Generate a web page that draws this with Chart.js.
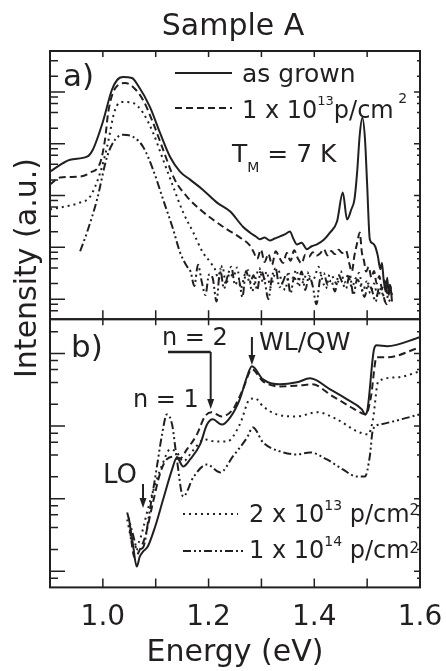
<!DOCTYPE html>
<html>
<head>
<meta charset="utf-8">
<script src="https://cdn.jsdelivr.net/npm/chart.js@4.4.0/dist/chart.umd.min.js"></script>
<style>
  html, body { margin: 0; padding: 0; background: #fff; }
</style>
</head>
<body>
<canvas id="grafico" width="446" height="671"></canvas>
<script>
// painel a) PL (log), painel b) PLE (log)
const eAsGrownA = [0.900, 0.938, 0.970, 0.981, 1.000, 1.017, 1.027, 1.038, 1.055, 1.066, 1.089, 1.108, 1.127, 1.146, 1.165, 1.189, 1.216, 1.241, 1.265, 1.278, 1.290, 1.297, 1.306, 1.316, 1.325, 1.335, 1.345, 1.354, 1.360, 1.367, 1.376, 1.386, 1.395, 1.405, 1.418, 1.430, 1.443, 1.454, 1.462, 1.470, 1.476, 1.481, 1.486, 1.491, 1.496, 1.500, 1.505, 1.510, 1.515, 1.520, 1.525, 1.528, 1.531, 1.535, 1.538, 1.541, 1.544, 1.547];
const iAsGrownA = [290, 492, 562, 767, 2650, 10900, 17000, 19400, 18600, 13600, 5150, 1630, 562, 290, 203, 130, 73, 49, 25, 19.4, 16, 14.3, 15.5, 13.5, 14.8, 16.3, 18, 20.3, 15, 11.4, 12.2, 9.2, 10.5, 11.4, 14, 19.4, 31.6, 114, 34.5, 53.8, 84, 277, 1490, 3160, 1194, 163, 14.3, 12, 10.5, 7, 3.8, 5, 2.5, 1.4, 2.6, 1.2, 1.8, 0.9];

const eDose13A = [0.900, 0.919, 0.957, 0.976, 0.995, 1.004, 1.010, 1.019, 1.029, 1.042, 1.057, 1.076, 1.095, 1.114, 1.136, 1.159, 1.184, 1.208, 1.235, 1.259, 1.278, 1.285, 1.292, 1.299, 1.306, 1.313, 1.320, 1.327, 1.334, 1.341, 1.348, 1.355, 1.362, 1.369, 1.376, 1.383, 1.390, 1.397, 1.404, 1.411, 1.418, 1.425, 1.432, 1.439, 1.446, 1.453, 1.460, 1.466, 1.471, 1.476, 1.481, 1.486, 1.490, 1.494, 1.498, 1.503, 1.508, 1.513, 1.518, 1.523, 1.528, 1.533, 1.538, 1.543, 1.547];
const iDose13A = [163, 222, 232, 277, 431, 1190, 3950, 9570, 13600, 14900, 12500, 7020, 2530, 767, 203, 95.7, 53.8, 34.5, 22.2, 15.6, 10.9, 8.2, 6.0, 9.0, 5.2, 7.5, 4.6, 8.4, 6.3, 5.0, 7.8, 5.5, 8.8, 6.1, 4.9, 7.2, 6.6, 8.0, 6.9, 7.6, 9.2, 7.0, 8.5, 7.4, 9.0, 7.8, 8.6, 5.0, 3.4, 7.0, 12, 19.4, 8, 5.5, 3.4, 4.2, 2.6, 3.5, 2.0, 2.8, 1.6, 2.3, 1.3, 1.9, 1.2];

const eDose2x13A = [0.900, 0.928, 0.957, 0.976, 0.995, 1.008, 1.023, 1.038, 1.057, 1.076, 1.095, 1.114, 1.133, 1.152, 1.171, 1.189, 1.203, 1.212, 1.219, 1.226, 1.233, 1.240, 1.247, 1.254, 1.261, 1.268, 1.275, 1.282, 1.289, 1.296, 1.303, 1.310, 1.317, 1.324, 1.331, 1.338, 1.345, 1.352, 1.359, 1.366, 1.373, 1.380, 1.387, 1.394, 1.401, 1.408, 1.415, 1.422, 1.429, 1.436, 1.443, 1.450, 1.457, 1.464, 1.471, 1.478, 1.485, 1.492, 1.499, 1.506, 1.513, 1.520, 1.527, 1.534, 1.541];
const iDose2x13A = [53.8, 61.4, 73.3, 95.7, 277, 875, 4510, 6420, 6140, 3950, 1629, 492, 149, 47.1, 19.4, 8.0, 5.2, 3.8, 2.4, 4.4, 1.9, 3.2, 2.7, 4.1, 1.6, 2.9, 3.6, 1.4, 2.5, 4.0, 2.1, 3.4, 1.7, 2.8, 3.9, 2.2, 1.5, 3.1, 2.6, 3.7, 1.8, 2.3, 3.3, 2.0, 2.7, 4.2, 2.4, 1.6, 3.0, 2.6, 1.9, 3.5, 2.1, 2.9, 1.7, 2.5, 3.2, 1.4, 2.2, 1.3, 2.0, 1.1, 1.6, 0.9, 1.3];

const eDose14A = [0.957, 0.970, 0.989, 1.008, 1.023, 1.038, 1.057, 1.076, 1.095, 1.114, 1.133, 1.146, 1.159, 1.166, 1.173, 1.180, 1.187, 1.194, 1.201, 1.208, 1.215, 1.222, 1.229, 1.236, 1.243, 1.250, 1.257, 1.264, 1.271, 1.278, 1.285, 1.292, 1.299, 1.306, 1.313, 1.320, 1.327, 1.334, 1.341, 1.348, 1.355, 1.362, 1.369, 1.376, 1.383, 1.390, 1.397, 1.404, 1.411, 1.418, 1.425, 1.432, 1.439, 1.446, 1.453, 1.460, 1.467, 1.474, 1.481, 1.488, 1.495, 1.502, 1.509, 1.516, 1.523, 1.530, 1.537, 1.544];
const iDose14A = [8.4, 19.4, 83.8, 562, 1194, 1490, 1364, 875, 316, 83.8, 22.2, 8.0, 4.3, 3.4, 1.8, 4.6, 2.2, 1.2, 3.0, 2.5, 0.9, 3.8, 1.6, 2.8, 4.2, 1.9, 2.4, 1.1, 3.5, 2.0, 2.9, 1.5, 3.6, 2.3, 1.0, 2.7, 3.9, 1.7, 2.2, 3.1, 1.3, 2.6, 2.0, 3.4, 1.5, 2.8, 1.8, 0.8, 2.5, 3.2, 1.9, 2.3, 1.4, 2.9, 2.1, 1.6, 3.0, 1.2, 2.4, 1.8, 1.1, 2.0, 1.5, 0.9, 1.7, 1.2, 0.8, 1.0];

const eAsGrownB = [1.049, 1.057, 1.064, 1.070, 1.076, 1.085, 1.099, 1.114, 1.131, 1.140, 1.152, 1.165, 1.184, 1.197, 1.208, 1.225, 1.241, 1.259, 1.273, 1.282, 1.303, 1.335, 1.367, 1.392, 1.430, 1.462, 1.490, 1.496, 1.500, 1.513, 1.518, 1.538, 1.600];
const iAsGrownB = [5.5, 2.33, 1.16, 1.6, 1.87, 2.19, 4.14, 9.75, 25.3, 37.0, 27.8, 34.7, 56, 105, 124, 105, 132, 234, 486, 666, 441, 376, 401, 455, 321, 234, 170, 145, 160, 1143, 1298, 1259, 1675];

const eDose13B = [1.051, 1.060, 1.070, 1.080, 1.095, 1.108, 1.121, 1.136, 1.146, 1.159, 1.178, 1.193, 1.206, 1.225, 1.246, 1.265, 1.282, 1.303, 1.335, 1.373, 1.396, 1.435, 1.467, 1.490, 1.498, 1.507, 1.518, 1.538, 1.600];
const iDose13B = [3.76, 1.55, 1.99, 3.0, 9, 22, 35, 38, 36, 47.7, 76.9, 136, 155, 136, 170, 321, 606, 413, 352, 364, 376, 257, 187, 150, 145, 249, 887, 887, 1219];

const eDose2x13B = [1.046, 1.059, 1.070, 1.085, 1.099, 1.114, 1.127, 1.140, 1.152, 1.169, 1.193, 1.212, 1.235, 1.259, 1.278, 1.288, 1.303, 1.329, 1.367, 1.405, 1.443, 1.481, 1.502, 1.511, 1.521, 1.556, 1.600];
const iDose2x13B = [5.17, 2.12, 2.73, 7.1, 15.7, 31.6, 47.7, 43.4, 32.6, 44.8, 65.6, 61.5, 61.5, 105, 234, 241, 187, 145, 136, 155, 124, 84.5, 76.9, 124, 413, 469, 568];

const eDose14B = [1.046, 1.057, 1.066, 1.076, 1.089, 1.102, 1.112, 1.121, 1.131, 1.140, 1.152, 1.171, 1.197, 1.222, 1.246, 1.273, 1.284, 1.303, 1.335, 1.367, 1.392, 1.424, 1.454, 1.481, 1.496, 1.505, 1.511, 1.524, 1.600];
const iDose14B = [6.45, 3.2, 1.99, 2.12, 7.1, 26.9, 76.9, 145, 105, 34.7, 10.7, 19.6, 29.6, 23.0, 38.2, 69.8, 96, 59.6, 44.8, 40.7, 43.4, 34.7, 25.3, 20.2, 20.2, 38.2, 90, 105, 145];

const rotulosX = [1.0, 1.2, 1.4, 1.6];
const decadas = [0.1, 1, 10, 100, 1000, 10000, 100000];
const menores = [1, 2, 4, 6, 8];

const cor = '#231f20';
const fonte = '"DejaVu Sans", sans-serif';
Chart.defaults.font.family = fonte;
Chart.defaults.color = cor;

const tracos = {
  solido: [],
  tracejado: [7, 4],
  pontilhado: [2, 4],
  tracoPonto: [8, 3, 2, 3, 2, 3]
};

function serie(label, e, v, eixo, dash) {
  return {
    label,
    data: e.map((x, i) => ({ x, y: v[i] })),
    yAxisID: eixo,
    borderColor: cor,
    borderWidth: 2,
    borderDash: dash,
    pointRadius: 0,
    cubicInterpolationMode: 'monotone',
    fill: false
  };
}

function ticksLog(scale) {
  scale.ticks = decadas.flatMap(d => menores.map(m => ({ value: d * m, major: m === 1 })))
    .filter(t => t.value >= scale.min && t.value <= scale.max);
}

function eixoY(min, max) {
  return {
    type: 'logarithmic',
    min, max,
    position: 'left',
    stack: 'paineis',
    stackWeight: 1,
    ticks: { display: false },
    grid: { display: false, drawTicks: false },
    border: { display: false },
    afterBuildTicks: ticksLog,
    afterFit: s => { s.width = 0; }
  };
}

function texto(ctx, partes, x, y) {
  partes.forEach(([t, tam, dy]) => {
    ctx.font = `${tam}px ${fonte}`;
    ctx.fillText(t, x, y + (dy || 0));
    x += ctx.measureText(t).width;
  });
}

function amostra(ctx, dash, x1, x2, y) {
  ctx.save();
  ctx.setLineDash(dash);
  ctx.lineWidth = 2;
  ctx.beginPath();
  ctx.moveTo(x1, y);
  ctx.lineTo(x2, y);
  ctx.stroke();
  ctx.restore();
}

function seta(ctx, x, y1, y2) {
  ctx.beginPath();
  ctx.moveTo(x, y1);
  ctx.lineTo(x, y2 - 8);
  ctx.stroke();
  ctx.beginPath();
  ctx.moveTo(x - 3.5, y2 - 10);
  ctx.lineTo(x + 3.5, y2 - 10);
  ctx.lineTo(x, y2);
  ctx.closePath();
  ctx.fill();
}

const moldura = {
  id: 'moldura',
  afterDatasetsDraw(chart) {
    const { ctx, chartArea: a, scales } = chart;
    const sx = scales.x;
    ctx.save();
    ctx.strokeStyle = cor;
    ctx.fillStyle = cor;

    ['y1', 'y2'].forEach(id => {
      const s = scales[id];
      ctx.lineWidth = 2;
      ctx.strokeRect(a.left, s.top, a.right - a.left, s.bottom - s.top);
      ctx.lineWidth = 1.5;
      ctx.beginPath();
      s.ticks.forEach(t => {
        const py = s.getPixelForValue(t.value);
        if (py < s.top + 1 || py > s.bottom - 1) return;
        ctx.moveTo(a.left, py);
        ctx.lineTo(a.left + (t.major ? 15 : 8), py);
        ctx.moveTo(a.right, py);
        ctx.lineTo(a.right - (t.major ? 6 : 3), py);
      });
      sx.ticks.forEach(t => {
        const px = sx.getPixelForValue(t.value);
        if (px < a.left + 1 || px > a.right - 1) return;
        ctx.moveTo(px, s.bottom);
        ctx.lineTo(px, s.bottom - 9);
        ctx.moveTo(px, s.top);
        ctx.lineTo(px, s.top + 6);
      });
      ctx.stroke();
    });

    // titulo e eixo y
    ctx.textAlign = 'center';
    ctx.font = `30px ${fonte}`;
    ctx.fillText('Sample A', 233, 35);
    ctx.save();
    ctx.translate(36, 268);
    ctx.rotate(-Math.PI / 2);
    ctx.fillText('Intensity (a.u.)', 0, 0);
    ctx.restore();
    ctx.textAlign = 'left';

    // painel a
    texto(ctx, [['a)', 31]], 63, 86);
    amostra(ctx, tracos.solido, 175, 232, 73);
    texto(ctx, [['as grown', 25]], 242, 82);
    amostra(ctx, tracos.tracejado, 175, 232, 108);
    texto(ctx, [['1 x 10', 24], ['13', 13, -13], ['p/cm', 24], [' 2', 14, -15]], 242, 118);
    texto(ctx, [['T', 25], ['M', 14, 10], [' = 7 K', 25]], 232, 162);

    // painel b
    texto(ctx, [['b)', 31]], 71, 357);
    amostra(ctx, tracos.pontilhado, 183, 238, 514);
    texto(ctx, [['2 x 10', 24], ['13', 14, -12], [' p/cm', 24], ['2', 15, -7]], 249, 522);
    amostra(ctx, tracos.tracoPonto, 183, 243, 551);
    texto(ctx, [['1 x 10', 24], ['14', 14, -12], [' p/cm', 24], ['2', 15, -5]], 249, 558);

    ctx.lineWidth = 2;
    texto(ctx, [['n = 2', 24]], 162, 345);
    const x2 = sx.getPixelForValue(1.204);
    ctx.lineWidth = 2.5;
    ctx.beginPath();
    ctx.moveTo(168, 352);
    ctx.lineTo(x2, 352);
    ctx.stroke();
    ctx.lineWidth = 2;
    seta(ctx, x2, 352, 409);
    texto(ctx, [['n = 1', 24]], 133, 407);
    texto(ctx, [['WL/QW', 25]], 259, 350);
    seta(ctx, sx.getPixelForValue(1.282), 337, 365);
    texto(ctx, [['LO', 26]], 103, 483);
    seta(ctx, sx.getPixelForValue(1.076), 484, 508);
    ctx.restore();
  }
};

new Chart(document.getElementById('grafico'), {
  type: 'line',
  data: {
    datasets: [
      serie('as grown', eAsGrownA, iAsGrownA, 'y1', tracos.solido),
      serie('1 x 10^13', eDose13A, iDose13A, 'y1', tracos.tracejado),
      serie('2 x 10^13', eDose2x13A, iDose2x13A, 'y1', tracos.pontilhado),
      serie('1 x 10^14', eDose14A, iDose14A, 'y1', tracos.tracoPonto),
      serie('as grown', eAsGrownB, iAsGrownB, 'y2', tracos.solido),
      serie('1 x 10^13', eDose13B, iDose13B, 'y2', tracos.tracejado),
      serie('2 x 10^13', eDose2x13B, iDose2x13B, 'y2', tracos.pontilhado),
      serie('1 x 10^14', eDose14B, iDose14B, 'y2', tracos.tracoPonto)
    ]
  },
  options: {
    responsive: false,
    animation: false,
    devicePixelRatio: 1,
    layout: { padding: { top: 51, left: 50, right: 26, bottom: 0 } },
    plugins: { legend: { display: false }, tooltip: { enabled: false } },
    scales: {
      x: {
        type: 'linear',
        min: 0.9,
        max: 1.6,
        ticks: {
          stepSize: 0.1,
          autoSkip: false,
          maxRotation: 0,
          padding: 14,
          font: { size: 28 },
          callback: v => {
            const r = Math.round(v * 10) / 10;
            return rotulosX.includes(r) ? r.toFixed(1) : '';
          }
        },
        grid: { display: false, drawTicks: false },
        border: { display: false },
        title: { display: true, text: 'Energy (eV)', font: { size: 30 }, padding: { top: -14, bottom: 0 } },
        // o rotulo 1.6 pode passar da borda direita
        afterFit: s => { s.paddingLeft = 0; s.paddingRight = 0; }
      },
      // o painel declarado por ultimo fica em cima
      y2: eixoY(0.615, 2970),
      y1: eixoY(0.41, 61700)
    }
  },
  plugins: [moldura]
});
</script>
</body>
</html>
